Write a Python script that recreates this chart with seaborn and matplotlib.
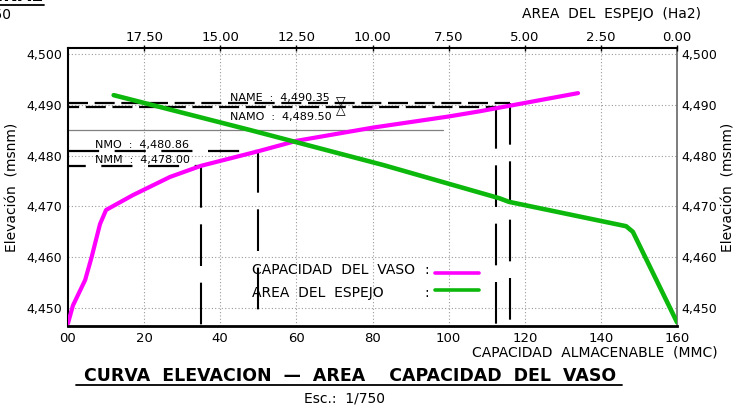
import matplotlib
matplotlib.use("Agg")
import matplotlib.pyplot as plt
import pandas as pd
import seaborn as sns

# Storage capacity curve (MMC vs elevation)
capacity_mmc = [0.0, 1.3, 4.5, 6.2, 8.4, 10.0, 17.0, 26.8, 35.0, 50.0, 60.0, 80.0, 100.0, 108.0, 134.0]
capacity_elev = [4447.0, 4450.5, 4455.5, 4460.0, 4466.5, 4469.3, 4472.2, 4475.8, 4478.0, 4480.86,
                 4482.9, 4485.5, 4487.7, 4488.7, 4492.3]

# Water-surface area curve (Ha2 vs elevation)
area_ha2 = [18.5, 17.0, 14.0, 9.65, 5.83, 5.52, 1.67, 1.45, 0.0]
area_elev = [4491.9, 4489.6, 4485.0, 4478.15, 4471.6, 4470.9, 4466.1, 4465.0, 4447.2]

# Operating levels: name, elevation, capacity where it meets the curve
level_names = ["NAME", "NAMO", "NMO", "NMM"]
level_elev = [4490.35, 4489.50, 4480.86, 4478.00]
level_cap = [116.0, 112.5, 50.0, 35.0]

elev_ticks = [4450, 4460, 4470, 4480, 4490, 4500]
cap_ticks = [0, 20, 40, 60, 80, 100, 120, 140, 160]
cap_tick_labels = ["00", "20", "40", "60", "80", "100", "120", "140", "160"]
area_ticks = [17.5, 15.0, 12.5, 10.0, 7.5, 5.0, 2.5, 0.0]

MAGENTA = "#ff00ff"
GREEN = "#0cb80c"

sns.set_theme(style="white")
plt.rcParams["font.family"] = ["DejaVu Sans"]
plt.rcParams.update({"text.color": "black", "axes.labelcolor": "black",
                     "xtick.color": "black", "ytick.color": "black"})

W, H = 746, 416
fig = plt.figure(figsize=(W / 100, H / 100), dpi=100)
fig.patch.set_facecolor("white")

x0, x1, ytop, ybot = 68, 677, 48, 326
ax = fig.add_axes([x0 / W, 1 - ybot / H, (x1 - x0) / W, (ybot - ytop) / H])
ax.set_facecolor("white")
ax.set_xlim(0, 160)
ax.set_ylim(4446.46, 4501.18)

# dotted grid
for c in cap_ticks[1:-1]:
    ax.axvline(c, color="#9a9a9a", lw=0.8, ls=(0, (1, 2)), zorder=0)
for e in elev_ticks:
    ax.axhline(e, color="#9a9a9a", lw=0.8, ls=(0, (1, 2)), zorder=0)

# capacity curve
cap_df = pd.DataFrame({"capacidad": capacity_mmc, "elevacion": capacity_elev})
sns.lineplot(data=cap_df, x="capacidad", y="elevacion", ax=ax, color=MAGENTA,
             lw=3.0, sort=False, estimator=None, zorder=4)

ax.set_xticks(cap_ticks)
ax.set_xticklabels(cap_tick_labels, fontsize=9.5)
ax.set_yticks(elev_ticks)
ax.set_yticklabels([f"{v:,}" for v in elev_ticks], fontsize=9)
ax.tick_params(axis="both", length=0, pad=4)
ax.set_xlabel("")
ax.set_ylabel("Elevación  (msnm)", fontsize=10, labelpad=5)

for side in ["left", "bottom", "top"]:
    ax.spines[side].set_color("black")
ax.spines["bottom"].set_linewidth(2.0)
ax.spines["left"].set_linewidth(1.5)
ax.spines["top"].set_linewidth(1.5)
ax.spines["right"].set_color("#666666")
ax.spines["right"].set_linewidth(1.2)

# right elevation axis
axr = ax.secondary_yaxis("right")
axr.set_yticks(elev_ticks)
axr.set_yticklabels([f"{v:,}" for v in elev_ticks], fontsize=9)
axr.tick_params(length=0, pad=3)
axr.set_ylabel("Elevación  (msnm)", fontsize=10, labelpad=3)
axr.spines["right"].set_visible(False)

# area curve on reversed top axis
axt = ax.twiny()
axt.set_xlim(160 / 8, 0)
area_df = pd.DataFrame({"area": area_ha2, "elevacion": area_elev})
sns.lineplot(data=area_df, x="area", y="elevacion", ax=axt, color=GREEN,
             lw=3.3, sort=False, estimator=None, zorder=4)
axt.set_xticks(area_ticks)
axt.set_xticklabels([f"{v:.2f}" for v in area_ticks], fontsize=9.5)
axt.tick_params(axis="x", length=4, direction="inout", width=1, pad=1)
axt.set_xlabel("AREA  DEL  ESPEJO  (Ha2)", fontsize=10)
axt.xaxis.set_label_coords(0.892, 1.108)
axt.set_ylabel("")
for s in axt.spines.values():
    s.set_visible(False)

# operating levels
bottom = 4446.46
hdash = {"NAME": (0, (9, 3)), "NAMO": (4, (9, 3)), "NMO": (0, (14, 7)), "NMM": (6, (14, 7))}
vdash = (0, (20, 8))
for name, e, c in zip(level_names, level_elev, level_cap):
    ax.plot([0, c], [e, e], color="black", lw=1.6, ls=hdash[name], zorder=3)
    ax.plot([c, c], [e, bottom], color="black", lw=1.5, ls=vdash, zorder=3)

ax.plot([0, 98.4], [4485.0, 4485.0], color="#808080", lw=0.9, zorder=2)

lab_kw = dict(fontsize=8, color="black", zorder=5, va="center")
ax.text(42.5, 4491.3, f"NAME  :  {level_elev[0]:,.2f}", **lab_kw)
ax.text(42.5, 4487.6, f"NAMO  :  {level_elev[1]:,.2f}", **lab_kw)
ax.text(7.0, 4482.0, f"NMO  :  {level_elev[2]:,.2f}", **lab_kw)
ax.text(7.0, 4479.1, f"NMM  :  {level_elev[3]:,.2f}", **lab_kw)
ax.text(71.6, 4490.7, "▽", ha="center", va="center", fontsize=9, zorder=5)
ax.text(71.6, 4488.9, "△", ha="center", va="center", fontsize=9, zorder=5)

# in-plot legend
leg_kw = dict(fontsize=10, color="black", va="center", zorder=5)
ax.text(48.3, 4457.4, "CAPACIDAD  DEL  VASO", **leg_kw)
ax.text(93.5, 4457.4, ":", **leg_kw)
ax.plot([96.3, 108.1], [4456.8, 4456.8], color=MAGENTA, lw=2.6, zorder=5)
ax.text(48.3, 4453.0, "AREA  DEL  ESPEJO", **leg_kw)
ax.text(93.5, 4453.0, ":", **leg_kw)
ax.plot([96.3, 108.1], [4453.6, 4453.6], color=GREEN, lw=2.6, zorder=5)

# bottom axis caption
fig.text(595 / W, 1 - 353 / H, "CAPACIDAD  ALMACENABLE  (MMC)", ha="center", va="center", fontsize=10)

# title block
fig.text(350 / W, 1 - 376 / H, "CURVA  ELEVACION  —  AREA    CAPACIDAD  DEL  VASO",
         ha="center", va="center", fontsize=12.5, fontweight="bold")
fig.add_artist(plt.Line2D([76 / W, 622 / W], [1 - 385 / H, 1 - 385 / H], color="black", lw=1.3))
fig.text(345 / W, 1 - 399 / H, "Esc.:  1/750", ha="center", va="center", fontsize=10)

# remnants of the neighbouring sheet title
fig.text(43 / W, 1 - 1 / H, "PERFIL  LONGITUDINAL", ha="right", va="baseline",
         fontsize=12.5, fontweight="bold")
fig.add_artist(plt.Line2D([0, 44 / W], [1 - 5 / H, 1 - 5 / H], color="black", lw=1.3))
fig.text(11 / W, 1 - 15 / H, "Esc.:  1/750", ha="right", va="center", fontsize=10)

fig.savefig("out.png", dpi=100, facecolor="white")
